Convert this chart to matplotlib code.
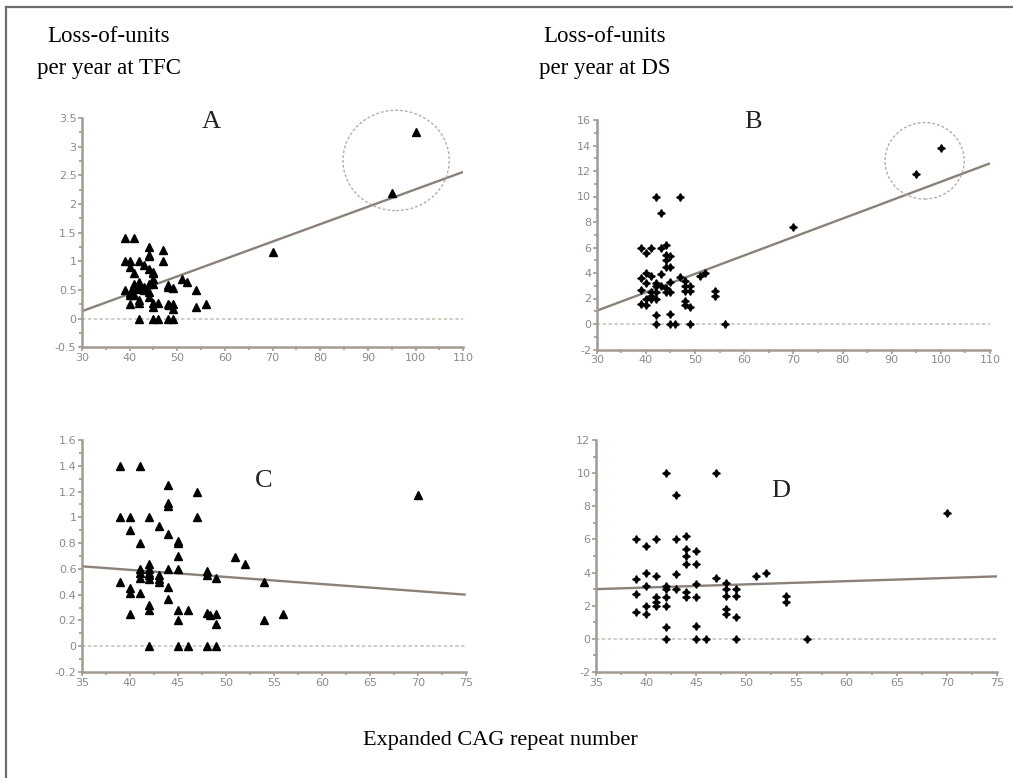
import matplotlib
matplotlib.use("Agg")
import matplotlib.pyplot as plt
from matplotlib.patches import Ellipse
from matplotlib.lines import Line2D
import numpy as np

# ---------------- data ----------------
# TFC loss-of-units per year vs CAG (panels A and C)
tfc_cag = [39, 41, 39, 40, 42, 40, 43, 41, 44, 44, 44, 44, 45, 45, 45, 47, 47,
           39, 40, 40, 41, 40, 41, 41, 41, 42, 42, 42, 42, 42, 43, 43, 43,
           42, 42, 42, 44, 45, 44, 44, 45, 46, 45, 45, 46, 48, 49, 48, 48, 49,
           48, 48.3, 49, 49, 51, 52, 54, 54, 56, 70]
tfc_rate = [1.4, 1.4, 1.0, 1.0, 1.0, 0.9, 0.93, 0.8, 1.25, 1.11, 1.09, 0.87, 0.82, 0.8, 0.7, 1.2, 1.0,
            0.5, 0.45, 0.41, 0.41, 0.25, 0.6, 0.57, 0.53, 0.64, 0.6, 0.57, 0.55, 0.52, 0.55, 0.52, 0.5,
            0.32, 0.28, 0.0, 0.6, 0.6, 0.46, 0.37, 0.28, 0.28, 0.2, 0.0, 0.0, 0.0, 0.0, 0.58, 0.55, 0.53,
            0.26, 0.24, 0.25, 0.17, 0.69, 0.64, 0.5, 0.2, 0.25, 1.17]
tfc_outlier_cag = [95, 100]
tfc_outlier_rate = [2.2, 3.25]

# DS loss-of-units per year vs CAG (panels B and D)
ds_cag = [42, 47, 43, 39, 40, 41, 43, 44, 44, 44, 44, 45, 45,
          39, 40, 41, 40, 39, 39, 40, 40, 41, 41, 41, 42, 42, 42, 42, 42, 42,
          43, 43, 44, 44, 45, 45, 45, 45, 46,
          47, 48, 48, 48, 48, 48, 49, 49, 49, 49, 51, 52, 54, 54, 56, 70]
ds_rate = [10.0, 10.0, 8.7, 6.0, 5.6, 6.0, 6.0, 6.2, 5.4, 5.0, 4.5, 5.3, 4.5,
           3.6, 4.0, 3.8, 3.2, 2.7, 1.6, 1.5, 2.0, 2.5, 2.0, 2.2, 3.2, 3.0, 2.5, 2.0, 0.7, 0.0,
           3.9, 3.0, 2.8, 2.5, 3.3, 2.5, 0.8, 0.0, 0.0,
           3.7, 3.4, 3.0, 2.6, 1.8, 1.5, 3.0, 2.6, 1.3, 0.0, 3.8, 4.0, 2.6, 2.2, 0.0, 7.6]
ds_outlier_cag = [95, 100]
ds_outlier_rate = [11.8, 13.8]

# fitted regression lines: (x_start, y_start, x_end, y_end)
fit_A = (30, 0.13, 110, 2.56)
fit_B = (30, 1.04, 110, 12.6)
fit_C = (35, 0.62, 75, 0.40)
fit_D = (35, 3.0, 75, 3.77)

# axis settings
xlim_AB = (30, 110)
xlim_CD = (35, 75)
ylim_A = (-0.5, 3.5)
ylim_B = (-2, 16)
ylim_C = (-0.2, 1.6)
ylim_D = (-2, 12)

# ---------------- style ----------------
W, H = 1013, 778
fig = plt.figure(figsize=(W / 100, H / 100), dpi=100)
fig.patch.set_facecolor("white")

AX_COL = "#a39b92"
TICK_COL = "#8f8a86"
LINE_COL = "#8a8178"
ZERO_COL = "#c9c2bb"
CIRC_COL = "#b5aca4"


def px_axes(l, t, r, b):
    return fig.add_axes([l / W, 1 - b / H, (r - l) / W, (b - t) / H])


def style(ax, xlim, ylim, xmaj, xmin, ymaj, ymin):
    ax.set_xlim(*xlim)
    ax.set_ylim(*ylim)
    for s in ["top", "right"]:
        ax.spines[s].set_visible(False)
    for s in ["left", "bottom"]:
        ax.spines[s].set_color(AX_COL)
        ax.spines[s].set_linewidth(1.8)
    ax.set_xticks(np.arange(xlim[0], xlim[1] + 0.001, xmaj))
    ax.set_xticks(np.arange(xlim[0], xlim[1] + 0.001, xmin), minor=True)
    ax.set_yticks(np.round(np.arange(ylim[0], ylim[1] + 0.0001, ymaj), 3))
    ax.set_yticks(np.round(np.arange(ylim[0], ylim[1] + 0.0001, ymin), 3), minor=True)
    ax.xaxis.set_major_formatter(plt.FuncFormatter(lambda v, p: f"{v:g}"))
    ax.yaxis.set_major_formatter(plt.FuncFormatter(lambda v, p: f"{v:g}"))
    ax.tick_params(which="both", colors=AX_COL, labelcolor=TICK_COL, labelsize=8,
                   direction="out", width=1.2)
    ax.tick_params(which="major", length=3, pad=1)
    ax.tick_params(which="minor", length=2)
    ax.set_facecolor("none")
    ax.axhline(0, color=ZERO_COL, lw=1.2, ls=(0, (2, 1.5)), zorder=1)


def fit_line(ax, f):
    ax.plot([f[0], f[2]], [f[1], f[3]], color=LINE_COL, lw=1.7, zorder=2,
            solid_capstyle="butt")


tri = dict(marker="^", ms=5.8, color="black", ls="none", zorder=3)
star = dict(marker=(4, 1, 0), ms=5.5, color="black", ls="none", zorder=3)

# Panel A
axA = px_axes(82, 118, 463.3, 347.3)
style(axA, xlim_AB, ylim_A, 10, 5, 0.5, 0.25)
fit_line(axA, fit_A)
axA.plot(tfc_cag, tfc_rate, **tri)
axA.plot(tfc_outlier_cag, tfc_outlier_rate, **tri)
axA.add_patch(Ellipse((95.9, 2.76), 22.3, 1.75, fill=False, ec=CIRC_COL,
                      lw=1.0, ls=(0, (2, 1.5)), zorder=2, clip_on=False))

# Panel B
axB = px_axes(596.7, 120, 990, 349.5)
style(axB, xlim_AB, ylim_B, 10, 5, 2, 1)
fit_line(axB, fit_B)
axB.plot(ds_cag, ds_rate, **star)
axB.plot(ds_outlier_cag, ds_outlier_rate, **star)
axB.add_patch(Ellipse((96.7, 12.8), 16.1, 6.0, fill=False, ec=CIRC_COL,
                      lw=1.0, ls=(0, (2, 1.5)), zorder=2, clip_on=False))

# Panel C
axC = px_axes(82, 440, 465.7, 672)
style(axC, xlim_CD, ylim_C, 5, 2.5, 0.2, 0.1)
fit_line(axC, fit_C)
axC.plot(tfc_cag, tfc_rate, **tri)

# Panel D
axD = px_axes(596, 440, 997, 672)
style(axD, xlim_CD, ylim_D, 5, 2.5, 2, 1)
fit_line(axD, fit_D)
axD.plot(ds_cag, ds_rate, **star)

# Panel letters
serif = ["Liberation Serif", "DejaVu Serif"]
for (x, y, s) in [(211.7, 122, "A"), (753, 122, "B"), (264, 481, "C"), (781, 491, "D")]:
    fig.text(x / W, 1 - y / H, s, family=serif, fontsize=19, ha="center", va="center",
             color="#222222")

# Headers
for (x, s1, s2) in [(109, "Loss-of-units", "per year at TFC"),
                    (605, "Loss-of-units", "per year at DS")]:
    fig.text(x / W, 1 - 42 / H, s1, family=serif, fontsize=16.5, ha="center",
             va="baseline", color="black")
    fig.text(x / W, 1 - 74 / H, s2, family=serif, fontsize=16.5, ha="center",
             va="baseline", color="black")

fig.text(500 / W, 1 - 745 / H, "Expanded CAG repeat number", family=serif,
         fontsize=16, ha="center", va="baseline", color="black")

# figure frame (top and left lines)
fig.add_artist(Line2D([6 / W, 1], [1 - 7 / H, 1 - 7 / H], transform=fig.transFigure,
                      color="#6e6e6e", lw=1.6))
fig.add_artist(Line2D([6 / W, 6 / W], [0, 1 - 7 / H], transform=fig.transFigure,
                      color="#6e6e6e", lw=1.6))

fig.savefig("out.png", dpi=100, facecolor="white")
